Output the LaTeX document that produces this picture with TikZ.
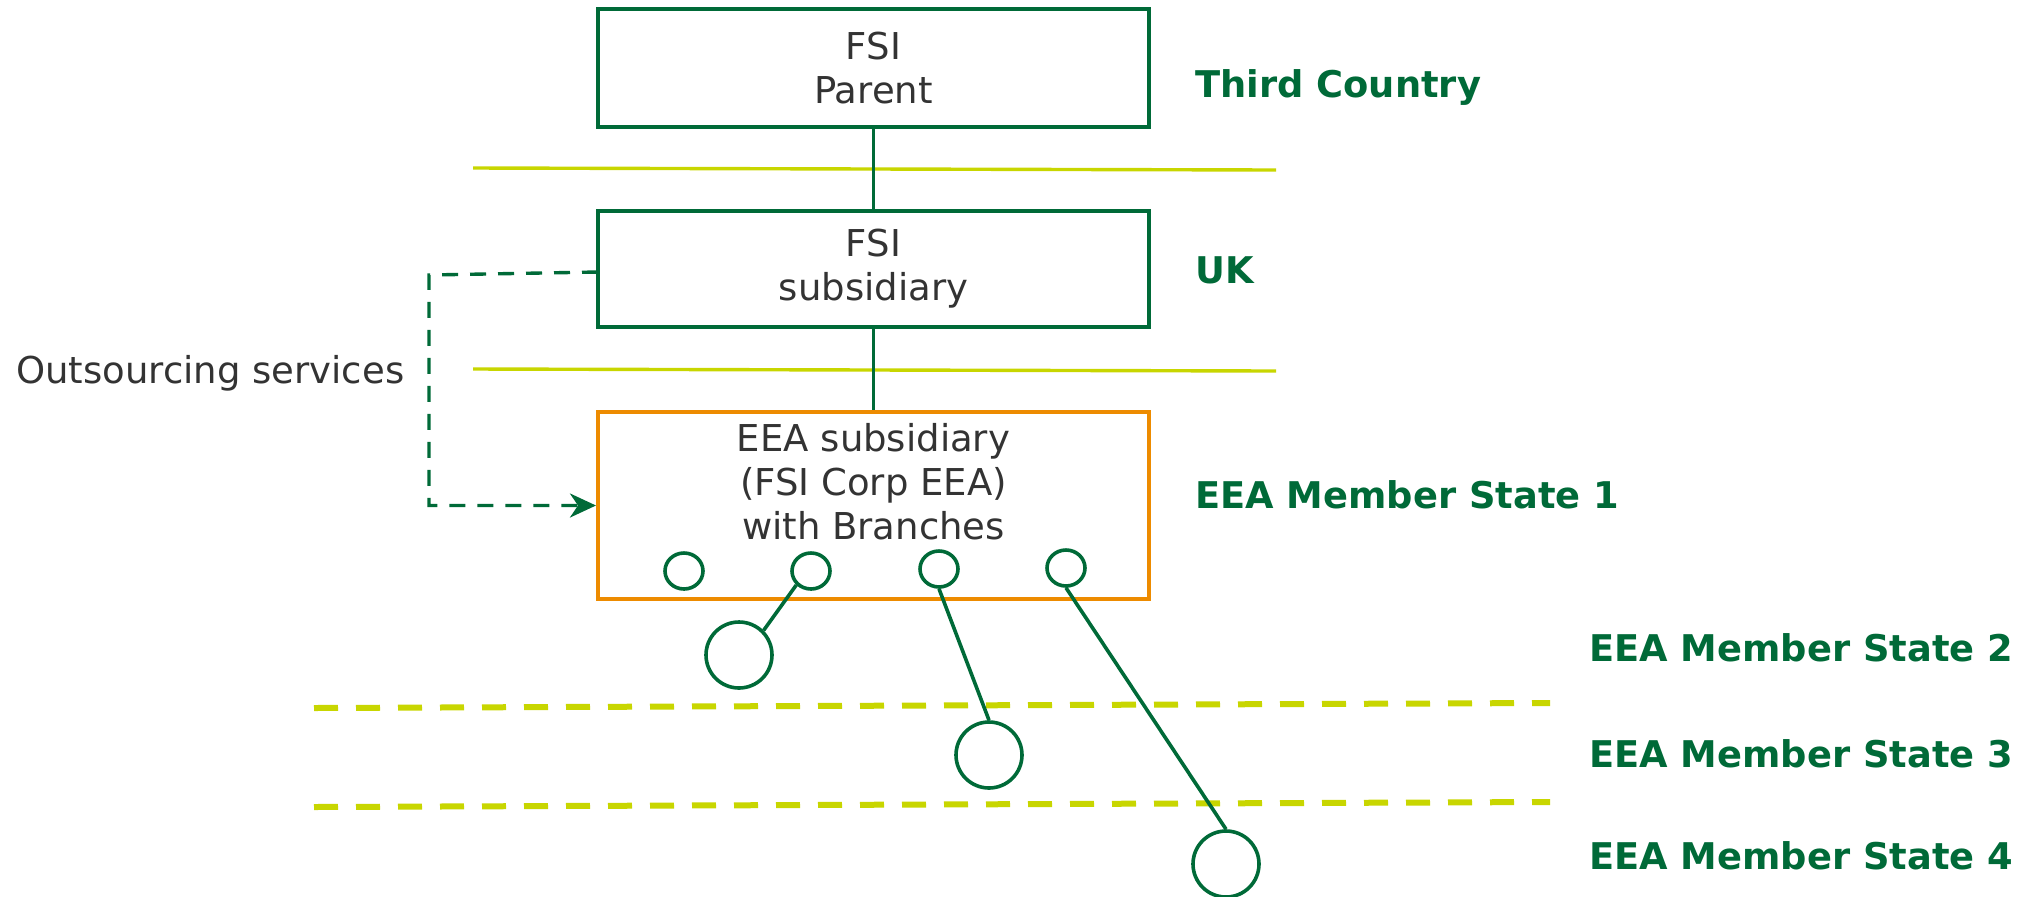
\documentclass[tikz,border=0pt]{standalone}
\usepackage{fontspec}
\setmainfont{DejaVu Sans}
\usetikzlibrary{arrows.meta,shapes.geometric}
\definecolor{fgreen}{RGB}{0,106,56}
\definecolor{forange}{RGB}{237,139,0}
\definecolor{flime}{RGB}{200,214,0}
\definecolor{ftext}{RGB}{51,51,51}
\begin{document}
\begin{tikzpicture}[x=0.5pt,y=-0.5pt,
  boxstyle/.style={draw=fgreen,line width=2pt,minimum width=275.5pt,inner sep=0pt,
    text=ftext,align=center,font=\fontsize{18.5}{22}\selectfont},
  txt/.style={inner sep=0pt,text=ftext,align=center,font=\fontsize{18.5}{22}\selectfont},
  lbl/.style={inner sep=0pt,anchor=base west,text=fgreen,font=\bfseries\fontsize{18.4}{22}\selectfont},
  conn/.style={draw=fgreen,line width=1.8pt},
  outs/.style={draw=fgreen,line width=1.7pt,dash pattern=on 8pt off 6pt},
  border/.style={draw=flime,line width=1.7pt},
  stateline/.style={draw=flime,line width=3pt,dash pattern=on 12pt off 9pt},
  branch/.style={ellipse,draw=fgreen,line width=1.8pt,minimum width=19pt,minimum height=18pt,inner sep=0pt},
  bigbranch/.style={circle,draw=fgreen,line width=1.8pt,minimum size=33pt,inner sep=0pt}]
\useasboundingbox (0,0) rectangle (2025,896);

% borders between jurisdictions
\draw[border] (473,168) -- (1276,170);
\draw[border] (473,369) -- (1276,371);
\draw[stateline] (314,708) -- (1550,703);
\draw[stateline] (314,807) -- (1550,802);

% boxes
\node[boxstyle,minimum height=59pt] (parent) at (873.5,68) {FSI\\Parent};
\node[boxstyle,minimum height=58pt] (sub) at (873.5,269) {FSI\\subsidiary};
\node[boxstyle,draw=forange,minimum height=93.5pt] (eea) at (873.5,505.5) {};
\node[txt] (eeatext) at (873.5,482) {EEA subsidiary\\(FSI Corp EEA)\\with Branches};

\draw[conn] (parent.south) -- (sub.north);
\draw[conn] (sub.south) -- (eea.north);

% branches
\node[branch] (c1) at (684,571) {};
\node[branch] (c2) at (811,571) {};
\node[branch] (c3) at (939,569) {};
\node[branch] (c4) at (1066,568) {};
\node[bigbranch] (b1) at (739,655) {};
\node[bigbranch] (b2) at (989,755) {};
\node[bigbranch] (b3) at (1226,864) {};
\draw[conn] (c2.south west) -- (b1.north east);
\draw[conn] (c3.south) -- (b2.north);
\draw[conn] (c4.south) -- (b3.north);

% outsourcing
\coordinate (ostart) at (598,272);
\coordinate (ocorner) at (429,275);
\draw[outs,-{Stealth[length=13pt,width=12pt,inset=4pt]}] (ostart) -- (ocorner) |- (eea.west);
\node[txt,anchor=base west] (outlbl) at (16,383) {Outsourcing services};

% jurisdiction labels
\node[lbl] (l0) at (1195,97) {Third Country};
\node[lbl] (l1) at (1195,283) {UK};
\node[lbl] (l2) at (1195,508) {EEA Member State 1};
\node[lbl] (l3) at (1589,661) {EEA Member State 2};
\node[lbl] (l4) at (1589,767) {EEA Member State 3};
\node[lbl] (l5) at (1589,869) {EEA Member State 4};
\end{tikzpicture}
\end{document}
